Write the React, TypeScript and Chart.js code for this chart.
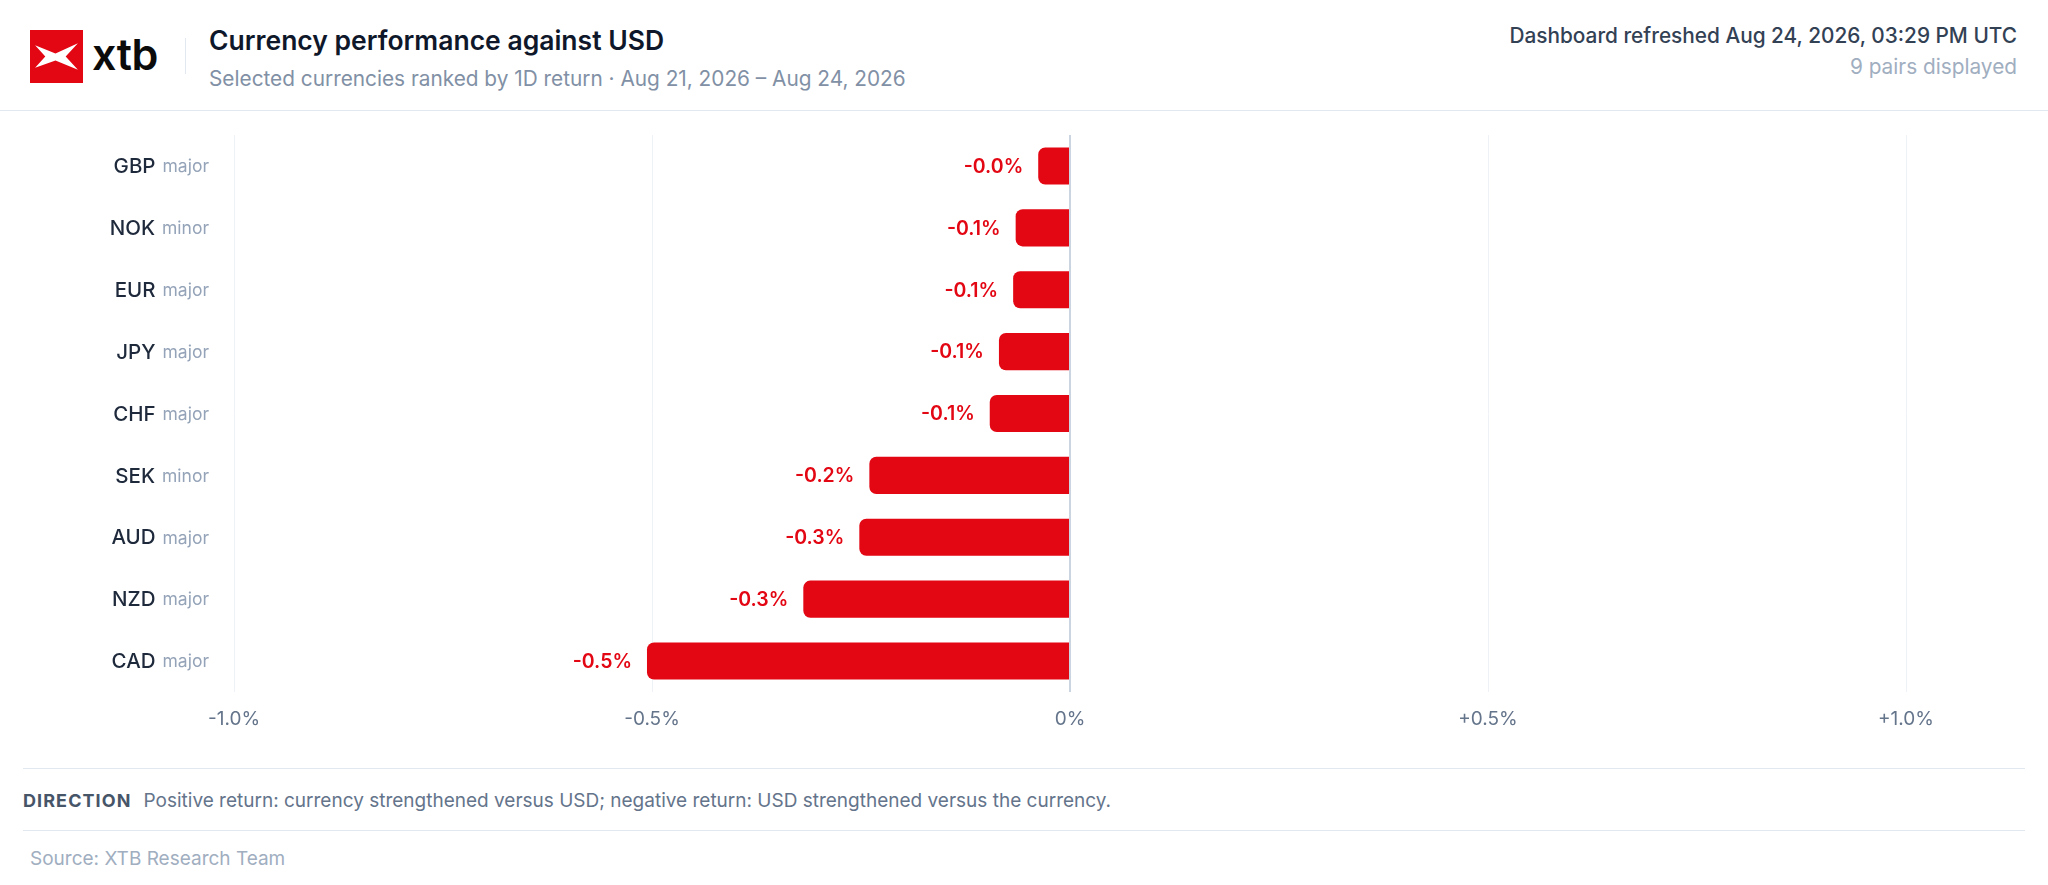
import React, { useEffect, useRef } from "react";
import { Chart, registerables, Plugin } from "chart.js";

Chart.register(...registerables);

// Currency data (1D return vs USD, %)
const currencies = ["GBP", "NOK", "EUR", "JPY", "CHF", "SEK", "AUD", "NZD", "CAD"];
const classes = ["major", "minor", "major", "major", "major", "minor", "major", "major", "major"];
const returns1D = [-0.038, -0.065, -0.068, -0.085, -0.096, -0.24, -0.252, -0.319, -0.506];
const xTicks = [-1, -0.5, 0, 0.5, 1];

const RED = "#e30613";
const FONT = "Inter, 'Noto Sans', sans-serif";

const fmtPct = (v: number) => {
  if (v === 0) return "0%";
  return (v > 0 ? "+" : "") + v.toFixed(1) + "%";
};

// Two-tone y labels: code (dark) + class (muted)
const yLabelsPlugin: Plugin<"bar"> = {
  id: "yLabels",
  afterDraw(chart) {
    const { ctx, chartArea } = chart;
    const yScale = chart.scales.y;
    ctx.save();
    ctx.textBaseline = "middle";
    ctx.textAlign = "right";
    currencies.forEach((code, i) => {
      const y = yScale.getPixelForValue(i) + 1;
      const right = chartArea.left - 25;
      ctx.font = `400 17.5px ${FONT}`;
      ctx.fillStyle = "#94a3b8";
      ctx.fillText(classes[i], right, y);
      const w = ctx.measureText(classes[i]).width;
      ctx.font = `500 20.5px ${FONT}`;
      ctx.fillStyle = "#1e293b";
      ctx.fillText(code, right - w - 7, y);
    });
    ctx.restore();
  },
};

// Value labels at the end of each bar
const valueLabelsPlugin: Plugin<"bar"> = {
  id: "valueLabels",
  afterDatasetsDraw(chart) {
    const { ctx } = chart;
    const meta = chart.getDatasetMeta(0);
    ctx.save();
    ctx.font = `600 19.5px ${FONT}`;
    ctx.fillStyle = RED;
    ctx.textBaseline = "middle";
    meta.data.forEach((bar: any, i) => {
      const v = returns1D[i];
      const neg = v < 0;
      ctx.textAlign = neg ? "right" : "left";
      ctx.fillText(fmtPct(v), bar.x + (neg ? -15 : 15), bar.y + 1);
    });
    ctx.restore();
  },
};

const CurrencyChart: React.FC = () => {
  const chartRef = useRef<HTMLCanvasElement>(null);
  const chartInstance = useRef<Chart | null>(null);

  useEffect(() => {
    if (!chartRef.current) return;
    if (chartInstance.current) chartInstance.current.destroy();
    const ctx = chartRef.current.getContext("2d");
    if (!ctx) return;

    chartInstance.current = new Chart(ctx, {
      type: "bar",
      data: {
        labels: currencies,
        datasets: [
          {
            data: returns1D,
            backgroundColor: RED,
            borderWidth: 0,
            borderRadius: 7,
            borderSkipped: "start",
            barPercentage: 0.6,
            categoryPercentage: 1,
          },
        ],
      },
      options: {
        indexAxis: "y",
        animation: false,
        responsive: true,
        maintainAspectRatio: false,
        layout: { padding: { top: 24, right: 119, bottom: 0, left: 0 } },
        plugins: {
          legend: { display: false },
          tooltip: { enabled: false },
        },
        scales: {
          x: {
            min: -1,
            max: 1,
            afterBuildTicks: (scale: any) => {
              scale.ticks = xTicks.map((v) => ({ value: v }));
            },
            afterFit: (scale: any) => {
              scale.height = 76;
            },
            border: { display: false },
            grid: {
              drawTicks: false,
              color: (c: any) => (c.tick && c.tick.value === 0 ? "#cbd5e1" : "#eef1f5"),
              lineWidth: (c: any) => (c.tick && c.tick.value === 0 ? 2 : 1),
            },
            ticks: {
              padding: 16,
              color: "#64748b",
              font: { family: FONT, size: 19 },
              callback: (v: any) => fmtPct(Number(v)),
            },
          },
          y: {
            afterFit: (scale: any) => {
              scale.width = 211;
            },
            border: { display: false },
            grid: { display: false },
            ticks: { display: false },
          },
        },
      },
      plugins: [yLabelsPlugin, valueLabelsPlugin],
    });

    return () => {
      if (chartInstance.current) {
        chartInstance.current.destroy();
        chartInstance.current = null;
      }
    };
  }, []);

  return (
    <div style={{ position: "relative", height: 657 }}>
      <canvas ref={chartRef}></canvas>
    </div>
  );
};

const Logo = () => (
  <div style={{ display: "flex", alignItems: "center" }}>
    <svg width="53" height="53" viewBox="0 0 52 52">
      <rect width="52" height="52" fill="#e30613" />
      <path d="M5,15 L25,23 L47,13 L35,26 L47,39 L25,30 L5,37 L15,26 Z" fill="#fff" />
    </svg>
    <span
      style={{
        marginLeft: 9,
        fontSize: 43,
        fontWeight: 600,
        color: "#0b0b0b",
        letterSpacing: "-0.5px",
        lineHeight: 1,
        marginTop: -4,
      }}
    >
      xtb
    </span>
  </div>
);

export default function App() {
  return (
    <div
      style={{
        position: "fixed",
        inset: 0,
        background: "#fff",
        fontFamily: FONT,
        overflow: "hidden",
      }}
    >
      {/* Header */}
      <div
        style={{
          height: 110,
          borderBottom: "1px solid #e2e8f0",
          position: "relative",
        }}
      >
        <div style={{ position: "absolute", left: 30, top: 30 }}>
          <Logo />
        </div>
        <div
          style={{
            position: "absolute",
            left: 185,
            top: 38,
            width: 1,
            height: 36,
            background: "#e2e8f0",
          }}
        />
        <div style={{ position: "absolute", left: 209, top: 24 }}>
          <div style={{ fontSize: 26.5, fontWeight: 600, color: "#0f172a", lineHeight: "32px" }}>
            Currency performance against USD
          </div>
          <div style={{ fontSize: 20.8, color: "#8190a5", lineHeight: "26px", marginTop: 10 }}>
            Selected currencies ranked by 1D return · Aug 21, 2026 – Aug 24, 2026
          </div>
        </div>
        <div style={{ position: "absolute", right: 31, top: 23, textAlign: "right" }}>
          <div style={{ fontSize: 20.8, fontWeight: 500, color: "#334155", lineHeight: "26px" }}>
            Dashboard refreshed Aug 24, 2026, 03:29 PM UTC
          </div>
          <div style={{ fontSize: 20.8, color: "#a0aec0", lineHeight: "26px", marginTop: 5 }}>
            9 pairs displayed
          </div>
        </div>
      </div>

      {/* Chart panel */}
      <div style={{ margin: "0 23px" }}>
        <div style={{ borderBottom: "1px solid #e2e8f0" }}>
          <CurrencyChart />
        </div>
        <div
          style={{
            height: 62,
            display: "flex",
            alignItems: "center",
            borderBottom: "1px solid #e2e8f0",
            paddingTop: 2,
            boxSizing: "border-box",
          }}
        >
          <span
            style={{
              fontSize: 18,
              fontWeight: 700,
              color: "#475569",
              letterSpacing: "0.06em",
              marginRight: 12,
            }}
          >
            DIRECTION
          </span>
          <span style={{ fontSize: 19, color: "#64748b" }}>
            Positive return: currency strengthened versus USD; negative return: USD strengthened
            versus the currency.
          </span>
        </div>
      </div>
      <div style={{ marginLeft: 30, marginTop: 16, fontSize: 19, color: "#a0aec0" }}>
        Source: XTB Research Team
      </div>
    </div>
  );
}
